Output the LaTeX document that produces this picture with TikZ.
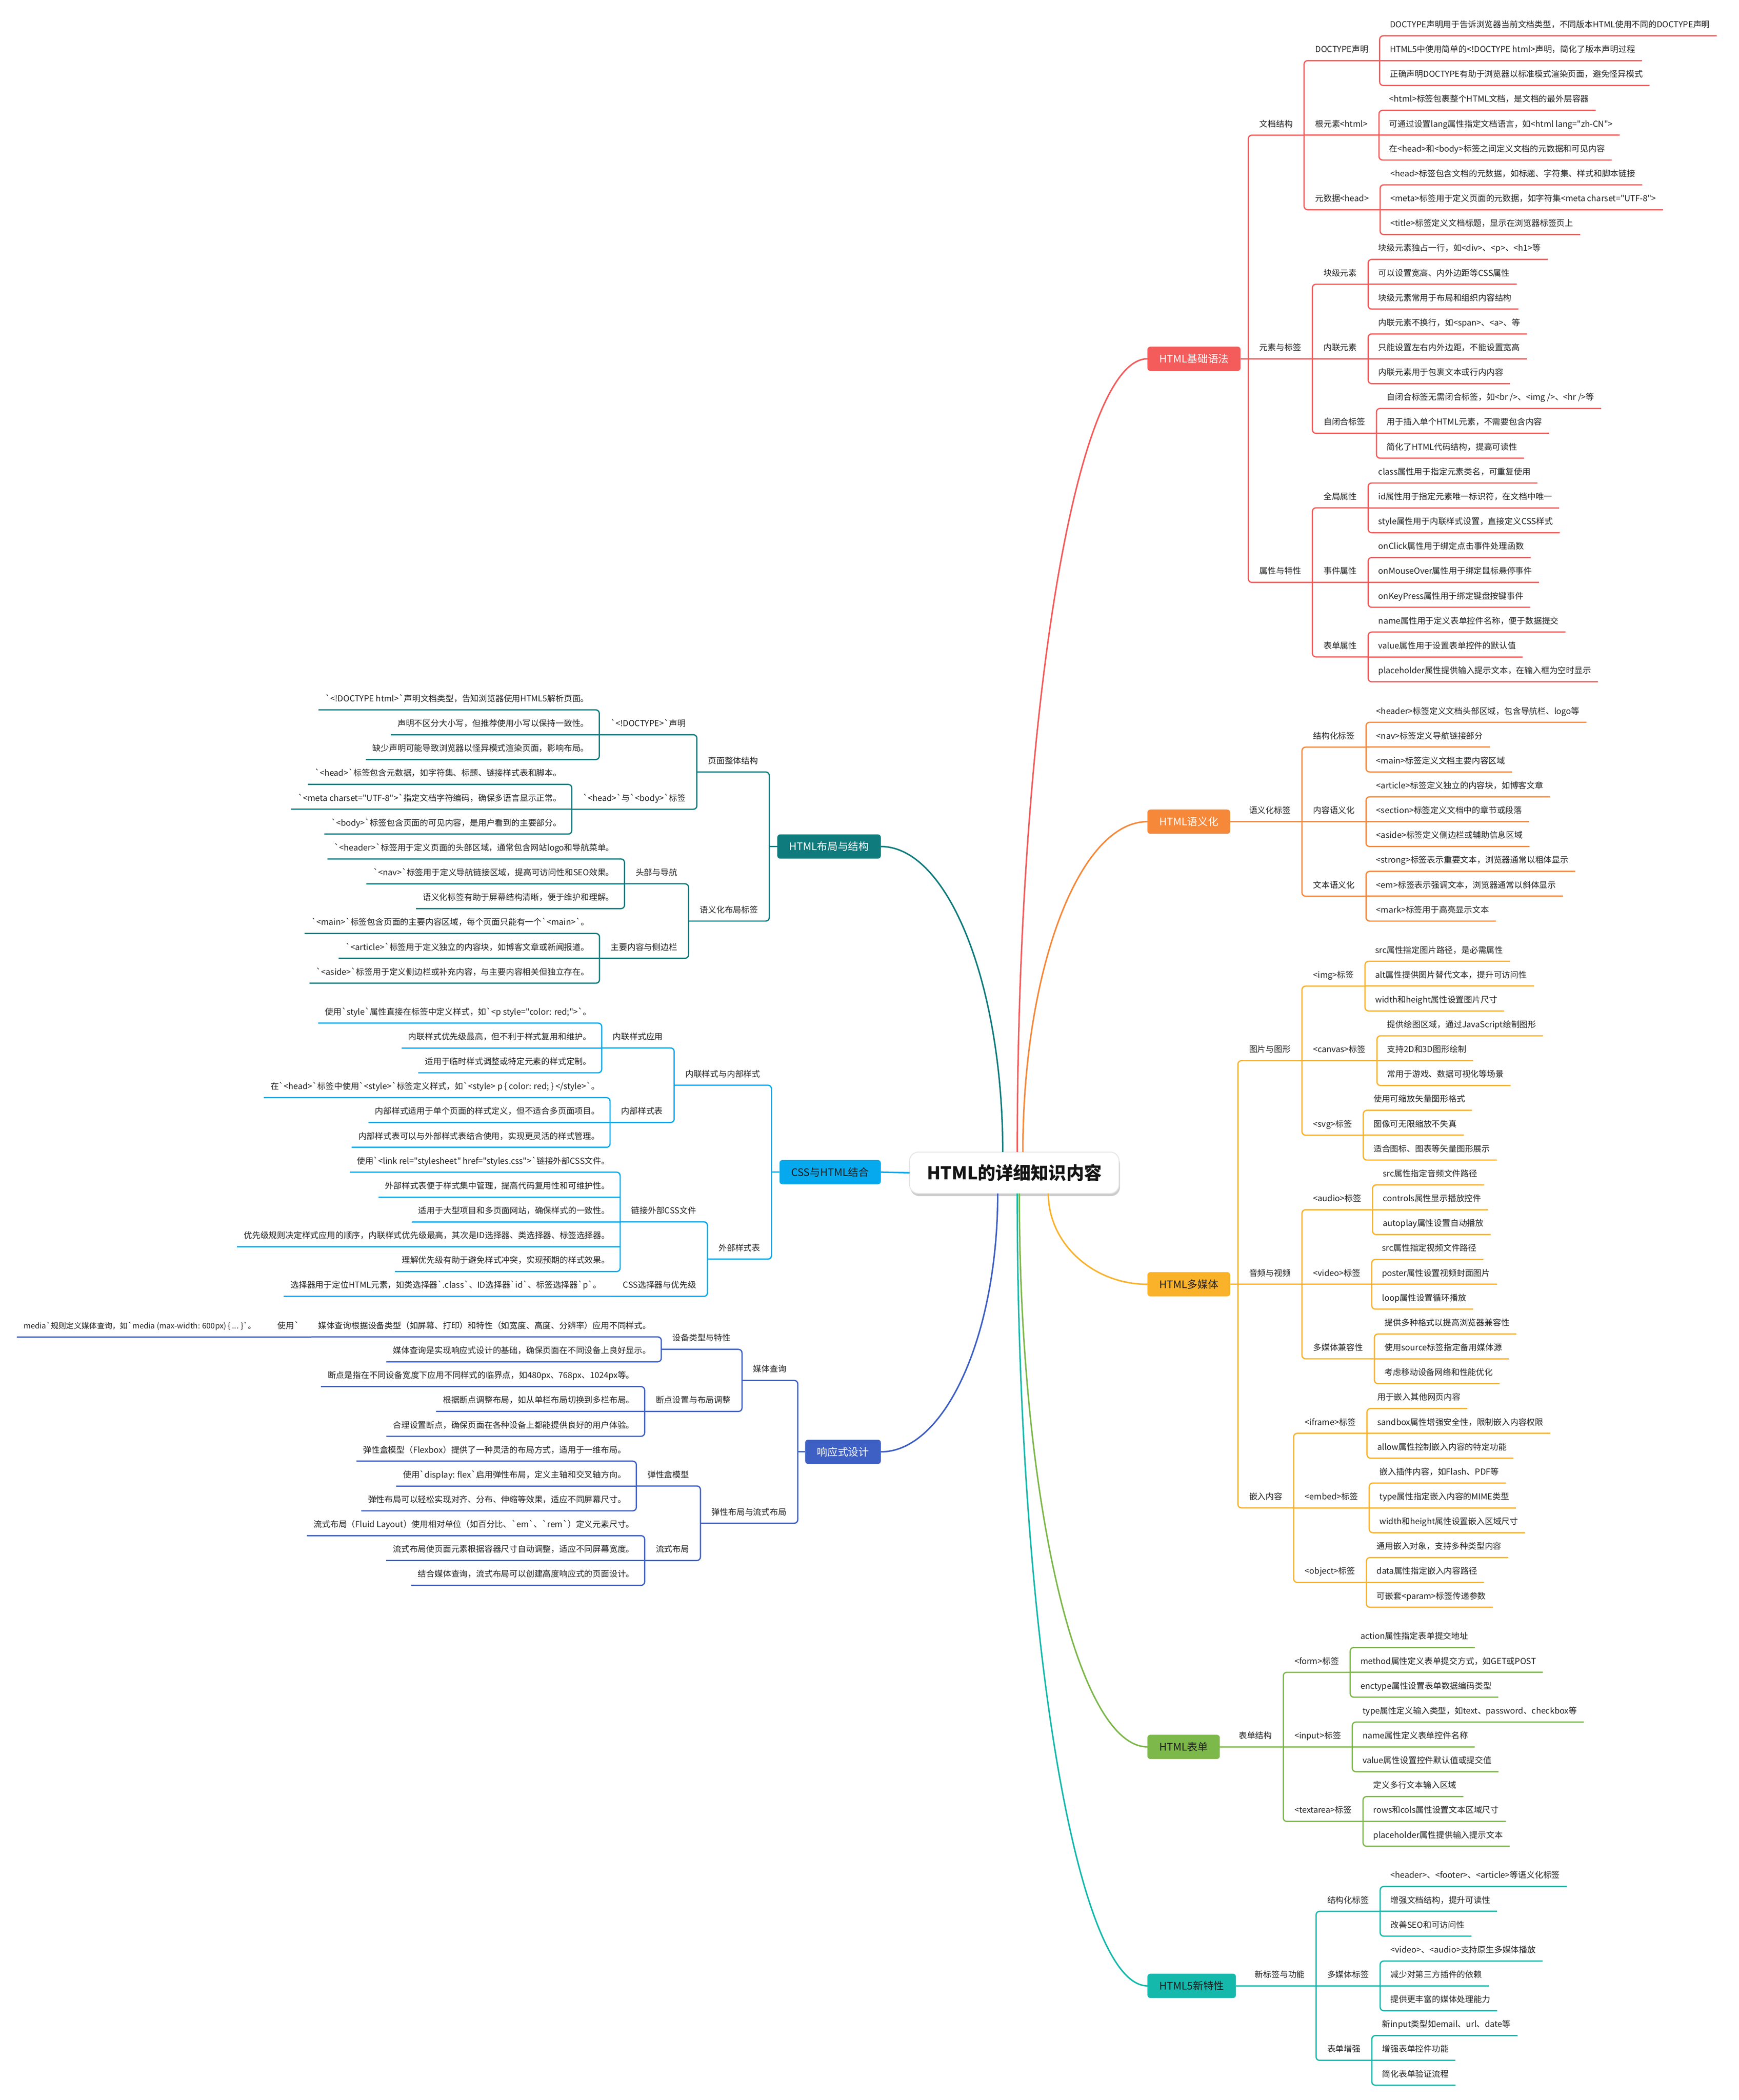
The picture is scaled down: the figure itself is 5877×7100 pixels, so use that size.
\documentclass[tikz,border=0pt]{standalone}
\usepackage{fontspec}
\usepackage{xcolor}
\usepackage{tikz}
\usetikzlibrary{calc,shadows}
\newfontfamily\cjk{Noto Sans CJK SC}

\definecolor{basicc}{HTML}{F45B5B}
\definecolor{semc}{HTML}{F6883A}
\definecolor{mediac}{HTML}{FAB22B}
\definecolor{formc}{HTML}{7DB84B}
\definecolor{newc}{HTML}{14B9AC}
\definecolor{layc}{HTML}{0F7B7D}
\definecolor{cssc}{HTML}{06A9EE}
\definecolor{respc}{HTML}{3E5FC4}
\definecolor{txt}{HTML}{222222}
\definecolor{dark}{HTML}{1E1E1E}

\tikzset{
    every node/.style={font=\cjk\fontsize{8pt}{9.6pt}\selectfont, text=txt, outer sep=0pt},
    leafR/.style={anchor=south west, xshift=1.2mm, inner xsep=2.3mm, inner ysep=2.8mm, text depth=0pt},
    leafL/.style={anchor=south east, xshift=-1.2mm, inner xsep=2.3mm, inner ysep=2.8mm, text depth=0pt},
    labR/.style={anchor=south west, inner xsep=3.8mm, inner ysep=2.8mm, text depth=0pt},
    labL/.style={anchor=south east, inner xsep=3.8mm, inner ysep=2.8mm, text depth=0pt},
    topic/.style={fill=#1, rounded corners=1mm, minimum height=8.2mm, inner xsep=4mm, font=\cjk\fontsize{10pt}{12pt}\selectfont},
    hubbox/.style={fill=white, draw=black!10, line width=0.3mm, rounded corners=3mm, minimum width=70.8mm, minimum height=14mm,
        font=\cjk\bfseries\fontsize{17pt}{20pt}\selectfont, text=black!92,
        drop shadow={shadow xshift=0.3mm, shadow yshift=-0.9mm, fill=black!22, opacity=0.9}},
    con/.style={draw=br, line width=0.42mm, rounded corners=1.2mm},
    curve/.style={draw=#1, line width=0.5mm},
}

\newcommand{\brR}[3]{\draw[con] (#2.south east) -- (#1 |- #2.south) -- (#1 |- #3.south) -- (#3.south east);}
\newcommand{\stubR}[2]{\draw[con] (#1 |- #2.south) -- (#2.south east);}
\newcommand{\brL}[3]{\draw[con] (#2.south west) -- (#1 |- #2.south) -- (#1 |- #3.south) -- (#3.south west);}
\newcommand{\stubL}[2]{\draw[con] (#1 |- #2.south) -- (#2.south west);}
\newcommand{\trioR}[7]{%
    \node[leafR] (#1-1) at (#1.south east |- #2) {#5};
    \node[leafR] (#1-2) at (#1.south east |- #3) {#6};
    \node[leafR] (#1-3) at (#1.south east |- #4) {#7};
    \brR{#1.south east}{#1-1}{#1-3}\stubR{#1.south east}{#1-2}}
\newcommand{\trioL}[7]{%
    \node[leafL] (#1-1) at (#1.south west |- #2) {#5};
    \node[leafL] (#1-2) at (#1.south west |- #3) {#6};
    \node[leafL] (#1-3) at (#1.south west |- #4) {#7};
    \brL{#1.south west}{#1-1}{#1-3}\stubL{#1.south west}{#1-2}}

\begin{document}
\begin{tikzpicture}[x=0.1mm,y=-0.1mm]
    \path[use as bounding box, fill=white] (0,0) rectangle (5877,7100);
    \node[hubbox] (hub) at (3428,3965) {HTML的详细知识内容};

    \colorlet{br}{basicc}
    \foreach \i in {1,...,27} \coordinate (a\i) at (3878,{121+84*(\i-1)});
    \node[topic=basicc, text=white, anchor=west] (basics) at (a14) {HTML基础语法};
    \coordinate (basics-b) at ([xshift=2.6mm]basics.east);
    \draw[con] (basics.east) -- (basics-b);
    \node[labR] (doc) at (basics-b |- a5) {文档结构};
    \node[labR] (elem) at (basics-b |- a14) {元素与标签};
    \node[labR] (attr) at (basics-b |- a23) {属性与特性};
    \brR{basics-b}{doc}{attr}\stubR{basics-b}{elem}
    \node[labR] (dtd) at (doc.south east |- a2) {DOCTYPE声明};
    \node[labR] (rtel) at (doc.south east |- a5) {根元素<html>};
    \node[labR] (mtd) at (doc.south east |- a8) {元数据<head>};
    \brR{doc.south east}{dtd}{mtd}\stubR{doc.south east}{rtel}
    \trioR{dtd}{a1}{a2}{a3}{DOCTYPE声明用于告诉浏览器当前文档类型，不同版本HTML使用不同的DOCTYPE声明}{HTML5中使用简单的<!DOCTYPE html>声明，简化了版本声明过程}{正确声明DOCTYPE有助于浏览器以标准模式渲染页面，避免怪异模式}
    \trioR{rtel}{a4}{a5}{a6}{<html>标签包裹整个HTML文档，是文档的最外层容器}{可通过设置lang属性指定文档语言，如<html lang="zh-CN">}{在<head>和<body>标签之间定义文档的元数据和可见内容}
    \trioR{mtd}{a7}{a8}{a9}{<head>标签包含文档的元数据，如标题、字符集、样式和脚本链接}{<meta>标签用于定义页面的元数据，如字符集<meta charset="UTF-8">}{<title>标签定义文档标题，显示在浏览器标签页上}
    \node[labR] (ablk) at (elem.south east |- a11) {块级元素};
    \node[labR] (ainl) at (elem.south east |- a14) {内联元素};
    \node[labR] (aslf) at (elem.south east |- a17) {自闭合标签};
    \brR{elem.south east}{ablk}{aslf}\stubR{elem.south east}{ainl}
    \trioR{ablk}{a10}{a11}{a12}{块级元素独占一行，如<div>、<p>、<h1>等}{可以设置宽高、内外边距等CSS属性}{块级元素常用于布局和组织内容结构}
    \trioR{ainl}{a13}{a14}{a15}{内联元素不换行，如<span>、<a>、等}{只能设置左右内外边距，不能设置宽高}{内联元素用于包裹文本或行内内容}
    \trioR{aslf}{a16}{a17}{a18}{自闭合标签无需闭合标签，如<br />、<img />、<hr />等}{用于插入单个HTML元素，不需要包含内容}{简化了HTML代码结构，提高可读性}
    \node[labR] (aglb) at (attr.south east |- a20) {全局属性};
    \node[labR] (aevt) at (attr.south east |- a23) {事件属性};
    \node[labR] (afrm) at (attr.south east |- a26) {表单属性};
    \brR{attr.south east}{aglb}{afrm}\stubR{attr.south east}{aevt}
    \trioR{aglb}{a19}{a20}{a21}{class属性用于指定元素类名，可重复使用}{id属性用于指定元素唯一标识符，在文档中唯一}{style属性用于内联样式设置，直接定义CSS样式}
    \trioR{aevt}{a22}{a23}{a24}{onClick属性用于绑定点击事件处理函数}{onMouseOver属性用于绑定鼠标悬停事件}{onKeyPress属性用于绑定键盘按键事件}
    \trioR{afrm}{a25}{a26}{a27}{name属性用于定义表单控件名称，便于数据提交}{value属性用于设置表单控件的默认值}{placeholder属性提供输入提示文本，在输入框为空时显示}

    \colorlet{br}{semc}
    \foreach \i in {1,...,9} \coordinate (b\i) at (3878,{2442+84*(\i-1)});
    \node[topic=semc, text=white, anchor=west] (sem) at (b5) {HTML语义化};
    \coordinate (sem-b) at ([xshift=2.6mm]sem.east);
    \node[labR] (stag) at (sem-b |- b5) {语义化标签};
    \draw[con] (sem.east) -- (stag.south east);
    \node[labR] (sst) at (stag.south east |- b2) {结构化标签};
    \node[labR] (sct) at (stag.south east |- b5) {内容语义化};
    \node[labR] (stx) at (stag.south east |- b8) {文本语义化};
    \brR{stag.south east}{sst}{stx}\stubR{stag.south east}{sct}
    \trioR{sst}{b1}{b2}{b3}{<header>标签定义文档头部区域，包含导航栏、logo等}{<nav>标签定义导航链接部分}{<main>标签定义文档主要内容区域}
    \trioR{sct}{b4}{b5}{b6}{<article>标签定义独立的内容块，如博客文章}{<section>标签定义文档中的章节或段落}{<aside>标签定义侧边栏或辅助信息区域}
    \trioR{stx}{b7}{b8}{b9}{<strong>标签表示重要文本，浏览器通常以粗体显示}{<em>标签表示强调文本，浏览器通常以斜体显示}{<mark>标签用于高亮显示文本}

    \colorlet{br}{mediac}
    \foreach \i in {1,...,27} \coordinate (c\i) at (3878,{3250+84*(\i-1)});
    \node[topic=mediac, text=dark, anchor=west] (mm) at (c14) {HTML多媒体};
    \coordinate (mm-b) at ([xshift=2.6mm]mm.east);
    \draw[con] (mm.east) -- (mm-b);
    \node[labR] (gfx) at (mm-b |- c5) {图片与图形};
    \node[labR] (av) at (mm-b |- c14) {音频与视频};
    \node[labR] (emb) at (mm-b |- c23) {嵌入内容};
    \brR{mm-b}{gfx}{emb}\stubR{mm-b}{av}
    \node[labR] (img) at (gfx.south east |- c2) {<img>标签};
    \node[labR] (canvas) at (gfx.south east |- c5) {<canvas>标签};
    \node[labR] (svg) at (gfx.south east |- c8) {<svg>标签};
    \brR{gfx.south east}{img}{svg}\stubR{gfx.south east}{canvas}
    \trioR{img}{c1}{c2}{c3}{src属性指定图片路径，是必需属性}{alt属性提供图片替代文本，提升可访问性}{width和height属性设置图片尺寸}
    \trioR{canvas}{c4}{c5}{c6}{提供绘图区域，通过JavaScript绘制图形}{支持2D和3D图形绘制}{常用于游戏、数据可视化等场景}
    \trioR{svg}{c7}{c8}{c9}{使用可缩放矢量图形格式}{图像可无限缩放不失真}{适合图标、图表等矢量图形展示}
    \node[labR] (audio) at (av.south east |- c11) {<audio>标签};
    \node[labR] (video) at (av.south east |- c14) {<video>标签};
    \node[labR] (compat) at (av.south east |- c17) {多媒体兼容性};
    \brR{av.south east}{audio}{compat}\stubR{av.south east}{video}
    \trioR{audio}{c10}{c11}{c12}{src属性指定音频文件路径}{controls属性显示播放控件}{autoplay属性设置自动播放}
    \trioR{video}{c13}{c14}{c15}{src属性指定视频文件路径}{poster属性设置视频封面图片}{loop属性设置循环播放}
    \trioR{compat}{c16}{c17}{c18}{提供多种格式以提高浏览器兼容性}{使用source标签指定备用媒体源}{考虑移动设备网络和性能优化}
    \node[labR] (ifr) at (emb.south east |- c20) {<iframe>标签};
    \node[labR] (emd) at (emb.south east |- c23) {<embed>标签};
    \node[labR] (obj) at (emb.south east |- c26) {<object>标签};
    \brR{emb.south east}{ifr}{obj}\stubR{emb.south east}{emd}
    \trioR{ifr}{c19}{c20}{c21}{用于嵌入其他网页内容}{sandbox属性增强安全性，限制嵌入内容权限}{allow属性控制嵌入内容的特定功能}
    \trioR{emd}{c22}{c23}{c24}{嵌入插件内容，如Flash、PDF等}{type属性指定嵌入内容的MIME类型}{width和height属性设置嵌入区域尺寸}
    \trioR{obj}{c25}{c26}{c27}{通用嵌入对象，支持多种类型内容}{data属性指定嵌入内容路径}{可嵌套<param>标签传递参数}

    \colorlet{br}{formc}
    \foreach \i in {1,...,9} \coordinate (d\i) at (3878,{5570+84*(\i-1)});
    \node[topic=formc, text=dark, anchor=west] (frm) at (d5) {HTML表单};
    \coordinate (frm-b) at ([xshift=2.6mm]frm.east);
    \node[labR] (fst) at (frm-b |- d5) {表单结构};
    \draw[con] (frm.east) -- (fst.south east);
    \node[labR] (ftag) at (fst.south east |- d2) {<form>标签};
    \node[labR] (itag) at (fst.south east |- d5) {<input>标签};
    \node[labR] (ttag) at (fst.south east |- d8) {<textarea>标签};
    \brR{fst.south east}{ftag}{ttag}\stubR{fst.south east}{itag}
    \trioR{ftag}{d1}{d2}{d3}{action属性指定表单提交地址}{method属性定义表单提交方式，如GET或POST}{enctype属性设置表单数据编码类型}
    \trioR{itag}{d4}{d5}{d6}{type属性定义输入类型，如text、password、checkbox等}{name属性定义表单控件名称}{value属性设置控件默认值或提交值}
    \trioR{ttag}{d7}{d8}{d9}{定义多行文本输入区域}{rows和cols属性设置文本区域尺寸}{placeholder属性提供输入提示文本}

    \colorlet{br}{newc}
    \foreach \i in {1,...,9} \coordinate (e\i) at (3878,{6378+84*(\i-1)});
    \node[topic=newc, text=dark, anchor=west] (nf) at (e5) {HTML5新特性};
    \coordinate (nf-b) at ([xshift=2.6mm]nf.east);
    \node[labR] (ntag) at (nf-b |- e5) {新标签与功能};
    \draw[con] (nf.east) -- (ntag.south east);
    \node[labR] (nst) at (ntag.south east |- e2) {结构化标签};
    \node[labR] (nmm) at (ntag.south east |- e5) {多媒体标签};
    \node[labR] (nfm) at (ntag.south east |- e8) {表单增强};
    \brR{ntag.south east}{nst}{nfm}\stubR{ntag.south east}{nmm}
    \trioR{nst}{e1}{e2}{e3}{<header>、<footer>、<article>等语义化标签}{增强文档结构，提升可读性}{改善SEO和可访问性}
    \trioR{nmm}{e4}{e5}{e6}{<video>、<audio>支持原生多媒体播放}{减少对第三方插件的依赖}{提供更丰富的媒体处理能力}
    \trioR{nfm}{e7}{e8}{e9}{新input类型如email、url、date等}{增强表单控件功能}{简化表单验证流程}

    \colorlet{br}{layc}
    \foreach \i in {1,...,12} \coordinate (f\i) at (2977,{2400+84*(\i-1)});
    \coordinate (fp) at ($(f2)!.5!(f5)$);
    \coordinate (fs) at ($(f8)!.5!(f11)$);
    \node[topic=layc, text=white, anchor=east] (lay) at ($(fp)!.5!(fs)$) {HTML布局与结构};
    \coordinate (lay-b) at ([xshift=-2.7mm]lay.west);
    \draw[con] (lay.west) -- (lay-b);
    \node[labL] (page) at (lay-b |- fp) {页面整体结构};
    \node[labL] (slay) at (lay-b |- fs) {语义化布局标签};
    \brL{lay-b}{page}{slay}
    \node[labL] (ldt) at (page.south west |- f2) {`<!DOCTYPE>`声明};
    \node[labL] (lhb) at (page.south west |- f5) {`<head>`与`<body>`标签};
    \brL{page.south west}{ldt}{lhb}
    \trioL{ldt}{f1}{f2}{f3}{`<!DOCTYPE html>`声明文档类型，告知浏览器使用HTML5解析页面。}{声明不区分大小写，但推荐使用小写以保持一致性。}{缺少声明可能导致浏览器以怪异模式渲染页面，影响布局。}
    \trioL{lhb}{f4}{f5}{f6}{`<head>`标签包含元数据，如字符集、标题、链接样式表和脚本。}{`<meta charset="UTF-8">`指定文档字符编码，确保多语言显示正常。}{`<body>`标签包含页面的可见内容，是用户看到的主要部分。}
    \node[labL] (lhn) at (slay.south west |- f8) {头部与导航};
    \node[labL] (lms) at (slay.south west |- f11) {主要内容与侧边栏};
    \brL{slay.south west}{lhn}{lms}
    \trioL{lhn}{f7}{f8}{f9}{`<header>`标签用于定义页面的头部区域，通常包含网站logo和导航菜单。}{`<nav>`标签用于定义导航链接区域，提高可访问性和SEO效果。}{语义化标签有助于屏幕结构清晰，便于维护和理解。}
    \trioL{lms}{f10}{f11}{f12}{`<main>`标签包含页面的主要内容区域，每个页面只能有一个`<main>`。}{`<article>`标签用于定义独立的内容块，如博客文章或新闻报道。}{`<aside>`标签用于定义侧边栏或补充内容，与主要内容相关但独立存在。}

    \colorlet{br}{cssc}
    \foreach \i in {1,...,12} \coordinate (g\i) at (2977,{3459+84*(\i-1)});
    \coordinate (gp) at ($(g2)!.5!(g5)$);
    \coordinate (gs) at ($(g9)!.5!(g12)$);
    \node[topic=cssc, text=dark, anchor=east] (css) at ($(gp)!.5!(gs)$) {CSS与HTML结合};
    \coordinate (css-b) at ([xshift=-2.7mm]css.west);
    \draw[con] (css.west) -- (css-b);
    \node[labL] (ginl) at (css-b |- gp) {内联样式与内部样式};
    \node[labL] (gext) at (css-b |- gs) {外部样式表};
    \brL{css-b}{ginl}{gext}
    \node[labL] (gapp) at (ginl.south west |- g2) {内联样式应用};
    \node[labL] (gsht) at (ginl.south west |- g5) {内部样式表};
    \brL{ginl.south west}{gapp}{gsht}
    \trioL{gapp}{g1}{g2}{g3}{使用`style`属性直接在标签中定义样式，如`<p style="color: red;">`。}{内联样式优先级最高，但不利于样式复用和维护。}{适用于临时样式调整或特定元素的样式定制。}
    \trioL{gsht}{g4}{g5}{g6}{在`<head>`标签中使用`<style>`标签定义样式，如`<style> p \{ color: red; \} </style>`。}{内部样式适用于单个页面的样式定义，但不适合多页面项目。}{内部样式表可以与外部样式表结合使用，实现更灵活的样式管理。}
    \node[labL] (glnk) at (gext.south west |- g9) {链接外部CSS文件};
    \node[labL] (gsel) at (gext.south west |- g12) {CSS选择器与优先级};
    \brL{gext.south west}{glnk}{gsel}
    \node[leafL] (glnk-1) at (glnk.south west |- g7) {使用`<link rel="stylesheet" href="styles.css">`链接外部CSS文件。};
    \node[leafL] (glnk-2) at (glnk.south west |- g8) {外部样式表便于样式集中管理，提高代码复用性和可维护性。};
    \node[leafL] (glnk-3) at (glnk.south west |- g9) {适用于大型项目和多页面网站，确保样式的一致性。};
    \node[leafL] (glnk-4) at (glnk.south west |- g10) {优先级规则决定样式应用的顺序，内联样式优先级最高，其次是ID选择器、类选择器、标签选择器。};
    \node[leafL] (glnk-5) at (glnk.south west |- g11) {理解优先级有助于避免样式冲突，实现预期的样式效果。};
    \brL{glnk.south west}{glnk-1}{glnk-5}
    \foreach \k in {2,3,4} {\stubL{glnk.south west}{glnk-\k}}
    \node[leafL] (gsel-1) at (gsel.south west |- g12) {选择器用于定位HTML元素，如类选择器`.class`、ID选择器`id`、标签选择器`p`。};
    \draw[con] (gsel.south west) -- (gsel-1.south west);

    \colorlet{br}{respc}
    \foreach \i in {1,...,11} \coordinate (h\i) at (2977,{4520+84*(\i-1)});
    \coordinate (hdv) at ($(h1)!.5!(h2)$);
    \coordinate (hmq) at ($(hdv)!.5!(h4)$);
    \coordinate (hfx) at ($(h7)!.5!(h10)$);
    \node[topic=respc, text=white, anchor=east] (resp) at ($(hmq)!.5!(hfx)$) {响应式设计};
    \coordinate (resp-b) at ([xshift=-2.5mm]resp.west);
    \draw[con] (resp.west) -- (resp-b);
    \node[labL] (mq) at (resp-b |- hmq) {媒体查询};
    \node[labL] (flex) at (resp-b |- hfx) {弹性布局与流式布局};
    \brL{resp-b}{mq}{flex}
    \node[labL] (dev) at (mq.south west |- hdv) {设备类型与特性};
    \node[labL] (bp) at (mq.south west |- h4) {断点设置与布局调整};
    \brL{mq.south west}{dev}{bp}
    \node[leafL] (dev-1) at (dev.south west |- h1) {媒体查询根据设备类型（如屏幕、打印）和特性（如宽度、高度、分辨率）应用不同样式。};
    \node[leafL] (dev-1b) at ([xshift=-0.6mm]dev-1.south west) {使用`};
    \node[leafL, font=\cjk\fontsize{7.4pt}{9pt}\selectfont] (dev-1c) at ([xshift=-1.5mm]dev-1b.south west) {media`规则定义媒体查询，如`media (max-width: 600px) \{ ... \}`。};
    \node[leafL] (dev-2) at (dev.south west |- h2) {媒体查询是实现响应式设计的基础，确保页面在不同设备上良好显示。};
    \brL{dev.south west}{dev-1}{dev-2}
    \draw[con] (dev-1c.south west) -- (dev-1.south west);
    \trioL{bp}{h3}{h4}{h5}{断点是指在不同设备宽度下应用不同样式的临界点，如480px、768px、1024px等。}{根据断点调整布局，如从单栏布局切换到多栏布局。}{合理设置断点，确保页面在各种设备上都能提供良好的用户体验。}
    \node[labL] (fbox) at (flex.south west |- h7) {弹性盒模型};
    \node[labL] (fluid) at (flex.south west |- h10) {流式布局};
    \brL{flex.south west}{fbox}{fluid}
    \trioL{fbox}{h6}{h7}{h8}{弹性盒模型（Flexbox）提供了一种灵活的布局方式，适用于一维布局。}{使用`display: flex`启用弹性布局，定义主轴和交叉轴方向。}{弹性布局可以轻松实现对齐、分布、伸缩等效果，适应不同屏幕尺寸。}
    \trioL{fluid}{h9}{h10}{h11}{流式布局（Fluid Layout）使用相对单位（如百分比、`em`、`rem`）定义元素尺寸。}{流式布局使页面元素根据容器尺寸自动调整，适应不同屏幕宽度。}{结合媒体查询，流式布局可以创建高度响应式的页面设计。}

    \draw[curve=basicc] ([xshift=1mm]hub.north) .. controls +(0,-1475) and +(-242,0) .. (basics.west);
    \draw[curve=semc] ([xshift=2.9mm]hub.north) .. controls +(0,-614) and +(-232,0) .. (sem.west);
    \draw[curve=mediac] ([xshift=11.5mm]hub.south) .. controls +(0,169) and +(-184,0) .. (mm.west);
    \draw[curve=formc] ([xshift=1.7mm]hub.south) .. controls +(0,1029) and +(-238,0) .. (frm.west);
    \draw[curve=newc] ([xshift=1mm]hub.south) .. controls +(0,1473) and +(-242,0) .. (nf.west);
    \draw[curve=layc] ([xshift=-3.9mm]hub.north) .. controls +(0,-568) and +(227,0) .. (lay.east);
    \draw[curve=cssc] (hub.west) -- (css.east);
    \draw[curve=respc] ([xshift=-5.6mm]hub.south) .. controls +(0,480) and +(217,0) .. (resp.east);
\end{tikzpicture}
\end{document}
